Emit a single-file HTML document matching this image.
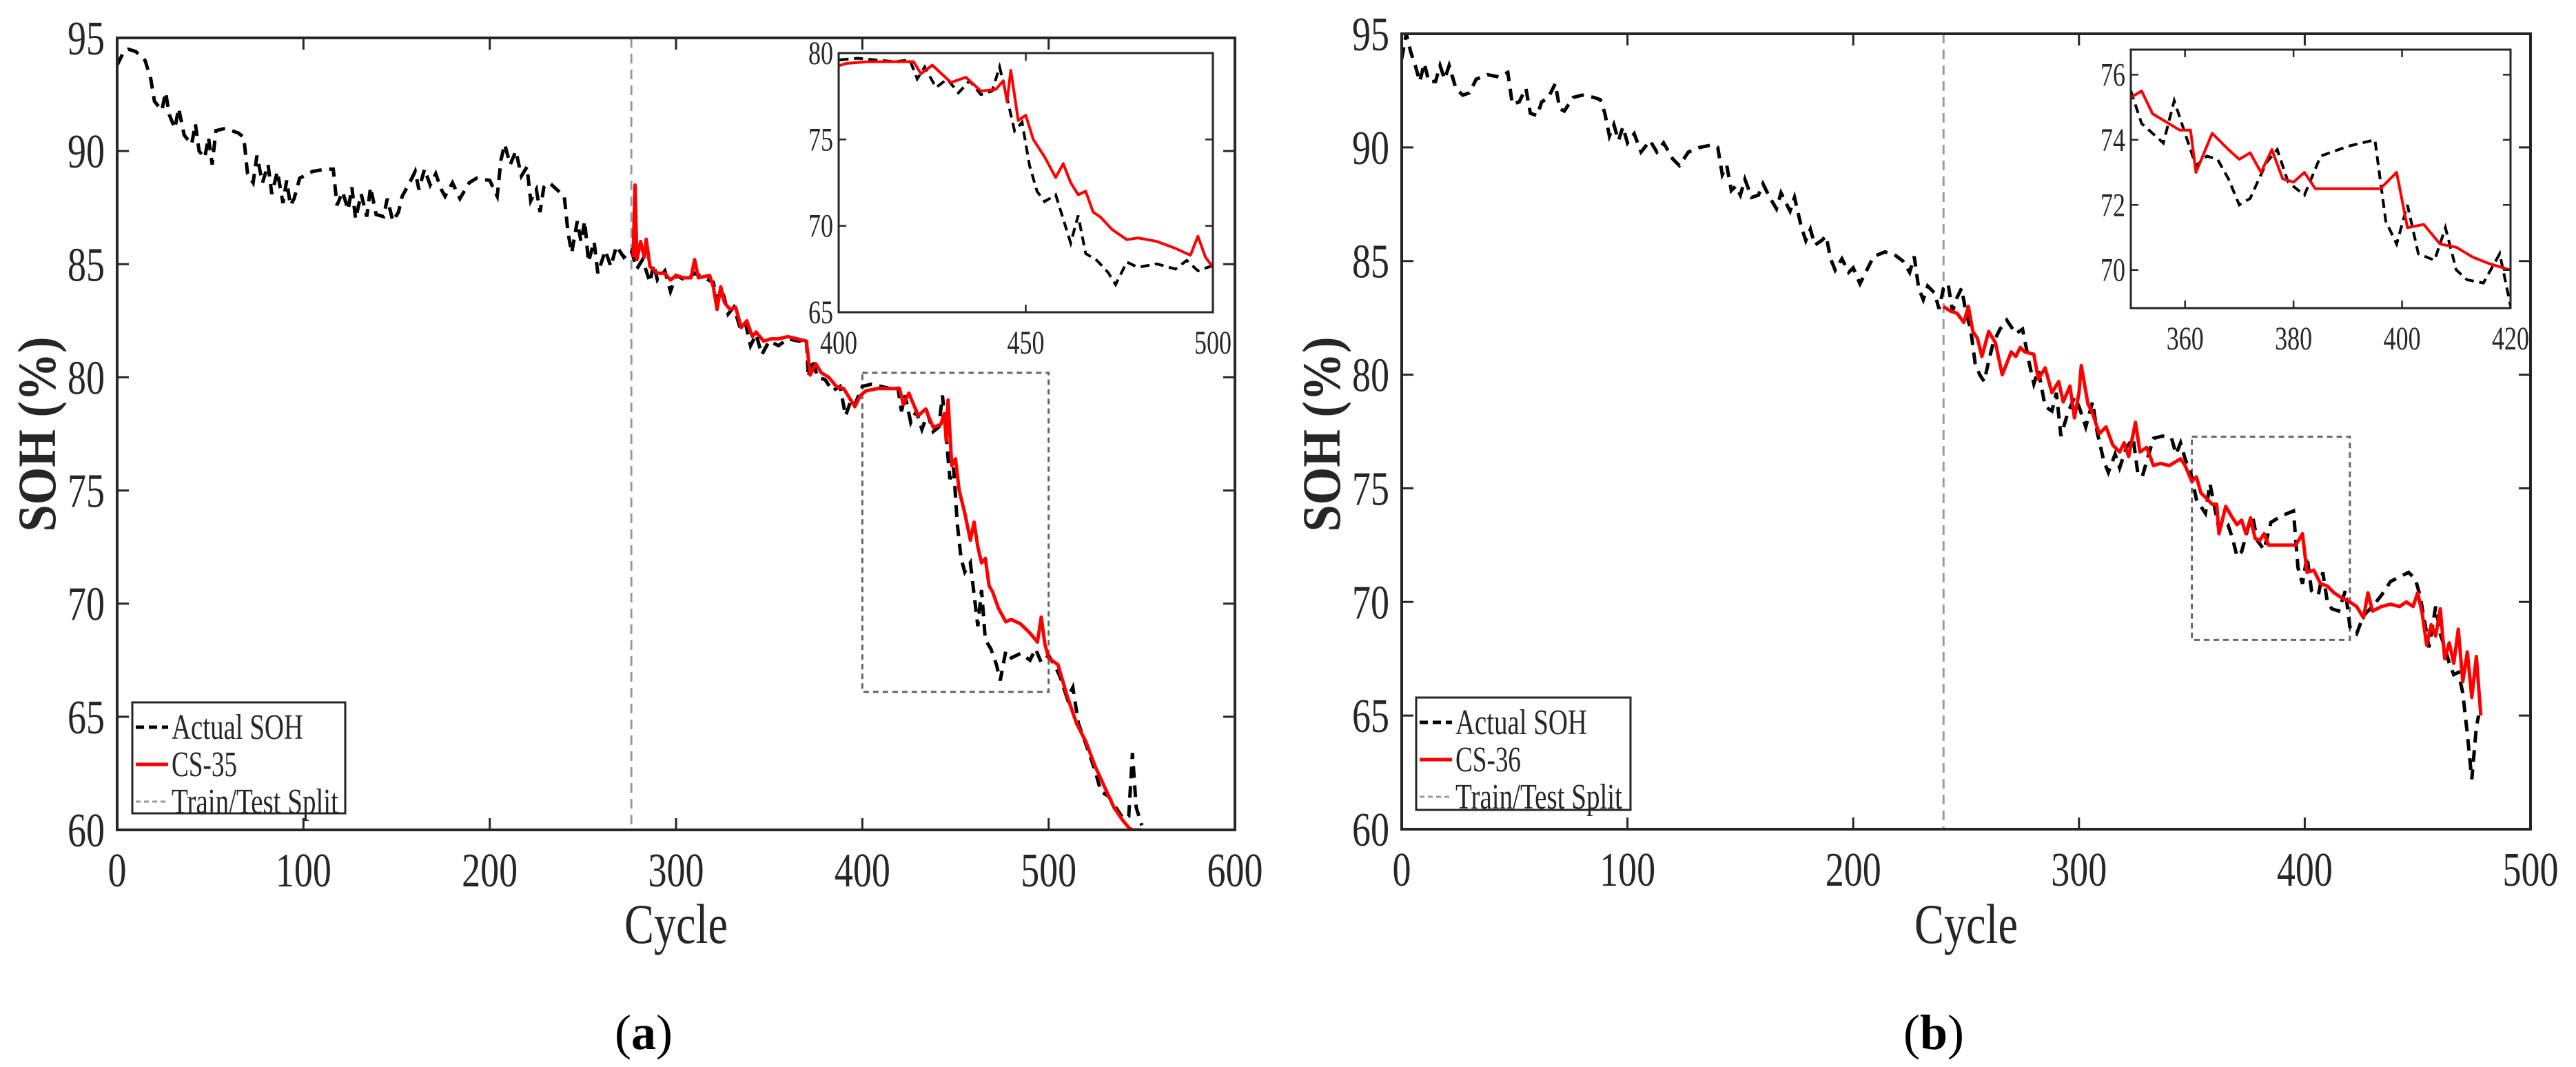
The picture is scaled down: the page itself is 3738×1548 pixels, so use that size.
<!DOCTYPE html>
<html><head><meta charset="utf-8"><style>
html,body{margin:0;padding:0;background:#fff;}
svg{display:block;font-family:"Liberation Serif",serif;}
svg text{font-family:"Liberation Serif",serif;}
</style></head><body>
<svg id="fig" width="3738" height="1548" viewBox="0 0 3738 1548" xmlns="http://www.w3.org/2000/svg"></svg>
<script>
// ---------- Panel (a) data ----------
const aActualX=[0,3,6,10,15,18,20,24,26,28,31,33,36,40,42,44,47,49,51,53,58,65,68,70,73,75,78,81,83,86,89,91,93,95,98,105,112,116,118,121,124,126,128,131,134,136,139,143,145,148,151,153,157,160,162,165,168,171,174,176,180,184,189,193,200,204,206,208,211,214,217,220,222,225,227,229,232,236,240,242,244,247,249,251,253,256,258,262,265,268,272,276,279,282,286,288,290,294,297,300,305,310,315,320,322,325,328,331,334,337,340,343,346,350,355,360,366,370,371,373,376,380,384,388,391,394,396,400,405,410,415,419,421,423,426,429,432,435,438,441,443,445,447,449,451,453,455,458,460,462,464,466,469,472,474,477,480,485,490,493,496,500,503,506,510,513,516,520,525,528,532,536,540,543,545,547,550];
const aActualY=[93.8,94.3,94.5,94.4,94.0,93.2,92.2,91.8,92.6,91.6,91.0,91.9,90.7,90.3,91.2,90.0,89.7,90.6,89.4,90.9,91.0,90.8,90.6,89.0,88.6,89.8,88.6,89.4,88.1,89.1,87.7,88.7,87.6,87.9,88.8,89.1,89.2,89.2,87.6,88.2,87.4,88.4,87.0,88.1,87.1,88.4,87.2,87.1,87.9,86.9,87.3,88.0,88.6,89.1,88.3,89.2,88.5,89.0,88.3,88.0,88.6,87.9,88.6,88.8,88.7,88.0,89.6,90.3,89.4,90.0,88.9,89.3,87.8,88.3,87.3,88.4,88.6,88.3,88.0,86.4,85.5,86.9,86.0,86.9,85.1,86.0,84.6,85.6,84.9,85.8,85.3,85.6,84.8,85.2,84.2,85.0,84.3,84.7,83.8,84.5,84.3,84.6,84.4,84.2,83.4,83.8,82.8,83.1,82.3,82.5,81.4,81.9,81.0,81.6,81.4,81.7,81.6,81.7,80.0,80.8,80.0,79.9,79.4,79.6,78.3,79.0,78.8,79.6,79.7,79.6,79.5,79.6,78.5,79.2,78.0,78.5,77.7,78.4,77.6,77.8,79.2,77.4,75.5,76.0,73.5,72.0,71.4,71.8,70.4,69.0,70.6,68.4,68.0,67.3,66.6,67.9,67.6,67.8,67.5,68.0,67.4,67.7,67.3,66.8,65.8,66.3,64.7,63.8,62.6,61.7,61.5,61.0,60.5,60.6,63.4,61.0,60.2];
const aPredX=[277,278,279,281,283,284,286,290,294,297,300,304,308,310,312,318,320,322,324,326,329,332,335,338,341,343,347,351,355,360,365,370,372,375,378,382,386,390,393,396,399,402,408,415,420,422,425,430,434,438,442,444,445,446,448,450,452,455,458,460,462,464,466,468,470,473,477,480,485,490,494,496,498,500,505,510,515,520,525,530,535,540,543,545,550];
const aPredY=[85.3,88.5,85.2,86.0,85.3,86.1,84.9,84.6,84.6,84.3,84.5,84.4,84.4,85.2,84.4,84.5,84.0,83.0,84.0,83.3,83.0,83.1,82.2,82.5,81.8,82.0,81.6,81.7,81.7,81.8,81.7,81.6,80.1,80.6,80.2,80.0,79.6,79.5,79.1,78.7,79.2,79.4,79.5,79.5,79.5,78.8,79.3,78.3,78.6,77.8,77.9,78.4,77.2,79.0,76.1,76.4,75.0,74.0,72.8,73.6,72.5,71.8,72.0,70.8,70.5,69.8,69.2,69.3,69.1,68.7,68.3,69.4,68.2,67.6,67.3,65.9,64.7,63.9,62.8,61.9,61.0,60.4,60.1,60.0,60.0];
const aXTicks=[0,100,200,300,400,500,600];
const aYTicks=[60,65,70,75,80,85,90,95];
const aInsetXTicks=[400,450,500];
const aInsetYTicks=[65,70,75,80];
const aSplit=276;
const aZoomBox=[400,500,66.1,80.2];

// ---------- Panel (b) data ----------
const bActualX=[0,2,4,6,8,10,12,15,17,19,21,24,27,30,33,38,43,47,49,52,55,57,60,62,65,68,70,72,76,80,85,88,90,92,94,96,98,100,103,106,110,113,116,120,123,127,132,137,140,142,144,146,148,150,152,155,158,160,163,166,168,172,174,177,179,181,183,186,188,190,192,195,198,200,203,206,209,214,218,222,225,227,229,231,233,236,238,240,242,244,246,248,250,252,254,256,258,260,262,265,268,272,275,278,280,282,285,288,290,292,295,298,300,303,306,308,311,313,316,318,321,324,326,328,330,333,337,341,343,345,347,350,352,354,356,358,360,362,364,366,368,370,372,375,377,379,382,385,390,395,397,399,401,403,406,408,410,412,415,418,420,423,426,430,434,438,442,446,449,451,453,455,458,460,462,464,466,468,470,472,474,476,477];
const bActualY=[93.9,95.0,94.2,93.6,92.9,93.7,92.9,92.9,93.6,93.0,93.6,92.6,92.3,92.4,93.0,93.2,93.1,93.3,91.9,92.0,92.6,91.5,91.4,92.0,92.2,92.8,91.7,91.6,92.2,92.3,92.2,92.1,91.5,90.5,91.0,90.3,90.9,90.2,90.6,89.8,90.3,89.8,90.2,89.5,89.2,89.8,90.0,90.1,90.0,88.8,89.2,88.1,88.3,87.9,88.6,87.8,87.9,88.4,87.8,87.3,88.0,87.2,87.8,86.5,85.9,86.4,85.7,85.9,86.1,85.1,84.6,85.1,84.5,84.7,84.0,84.6,85.2,85.4,85.3,85.0,84.5,85.2,83.8,83.3,83.9,83.6,82.9,83.8,84.0,82.8,83.4,83.8,82.7,82.0,80.5,80.0,79.7,80.6,81.4,82.0,82.4,81.8,82.0,80.5,79.6,80.2,78.6,78.4,79.2,77.3,78.3,79.0,78.6,77.7,78.8,77.5,76.2,75.7,76.5,75.9,76.8,77.2,75.7,75.5,76.2,77.2,77.3,77.2,76.5,77.0,76.3,75.5,74.5,74.2,73.9,75.2,74.2,73.2,73.5,73.4,72.8,72.0,72.2,73.3,73.7,72.7,72.3,73.5,73.8,74.0,71.5,70.8,72.0,70.5,70.3,71.3,70.0,69.7,69.6,70.5,68.9,68.6,69.4,69.8,70.3,70.9,71.1,71.3,71.0,70.3,69.2,68.0,69.8,68.6,68.0,67.3,66.8,66.9,66.0,64.2,62.2,64.5,65.0];
const bPredX=[240,243,246,249,251,253,255,257,260,263,266,268,270,272,274,276,280,282,285,288,291,293,296,298,300,301,304,306,309,312,315,318,320,322,325,327,330,333,336,340,345,347,350,352,354,357,359,361,362,365,368,370,372,374,376,378,380,382,384,388,392,396,399,401,404,407,410,413,416,420,423,426,428,430,434,438,442,445,448,450,452,454,456,458,460,462,464,466,468,470,472,474,476,478];
const bPredY=[83.0,82.8,82.7,82.3,83.0,81.9,81.6,80.8,81.9,81.4,80.0,80.5,81.0,80.8,81.2,81.0,80.9,79.8,80.3,79.2,79.7,78.8,79.5,78.1,79.2,80.4,78.7,78.3,77.4,77.7,76.9,76.6,77.0,76.4,77.9,76.6,76.8,76.0,76.1,76.0,76.3,76.0,75.3,75.5,74.8,74.5,74.3,74.3,73.0,74.2,73.7,73.4,73.6,73.0,73.7,72.8,72.7,73.0,72.5,72.5,72.5,72.5,73.0,71.3,71.4,70.8,70.7,70.4,70.2,70.0,69.8,69.3,70.4,69.6,69.8,69.9,69.8,70.0,69.8,70.4,69.5,68.1,69.0,68.5,69.7,67.5,68.2,67.3,68.8,66.5,67.8,65.8,67.6,65.0];
const bXTicks=[0,100,200,300,400,500];
const bYTicks=[60,65,70,75,80,85,90,95];
const bInsetXTicks=[360,380,400,420];
const bInsetYTicks=[70,72,74,76];
const bSplit=240;
const bZoomBox=[350,420,68.33,77.27];

const NS="http://www.w3.org/2000/svg";
const FONT='"Liberation Serif", serif';
const svg=document.getElementById('fig');
function mk(tag,attrs,parent){const e=document.createElementNS(NS,tag);for(const k in attrs)e.setAttribute(k,attrs[k]);if(tag==='text')e.setAttribute('font-family',FONT);(parent||svg).appendChild(e);return e;}
function txt(s,x,y,size,anchor,lenPerChar,parent,weight){
  const t=mk('text',{x:x,y:y,'font-size':size,'text-anchor':anchor,fill:'#262626'},parent);
  if(weight)t.setAttribute('font-weight',weight);
  if(lenPerChar){t.setAttribute('textLength',(s.length*lenPerChar).toFixed(1));t.setAttribute('lengthAdjust','spacingAndGlyphs');}
  t.textContent=s;return t;}
function scale(d0,d1,r0,r1){return v=>r0+(v-d0)/(d1-d0)*(r1-r0);}
function pathD(xs,ys,sx,sy){return xs.map((x,i)=>(i?'L':'M')+sx(x).toFixed(1)+','+sy(ys[i]).toFixed(1)).join('');}
let clipId=0;

function panel(p){
  const g=mk('g',{});
  
  
  const sx=scale(p.xd[0],p.xd[1],p.L,p.R), sy=scale(p.yd[0],p.yd[1],p.B,p.T);
  const cid='clip'+(clipId++);
  const cp=mk('clipPath',{id:cid},g); mk('rect',{x:p.L,y:p.T,width:p.R-p.L,height:p.B-p.T},cp);
  const plot=mk('g',{'clip-path':'url(#'+cid+')'},g);
  const sl=mk('line',{x1:sx(p.split),x2:sx(p.split),y1:p.T,y2:p.B,stroke:'#999',"stroke-width":3,"stroke-dasharray":'14,9'},plot);
  
  
  const zb=p.zoom;
  const zr=mk('rect',{x:sx(zb[0]),y:sy(zb[3]),width:sx(zb[1])-sx(zb[0]),height:sy(zb[2])-sy(zb[3]),fill:'none',stroke:'#666',"stroke-width":3,"stroke-dasharray":'8,6'},plot);
  
  
  const a=mk('path',{d:pathD(p.ax,p.ay,sx,sy),fill:'none',stroke:'#000',"stroke-width":5,"stroke-dasharray":'17,11'},plot);
  
  
  const r=mk('path',{d:pathD(p.px,p.py,sx,sy),fill:'none',stroke:'#ff0000',"stroke-width":5,"stroke-linejoin":'round'},plot);
  
  
  const ax=mk('rect',{x:p.L,y:p.T,width:p.R-p.L,height:p.B-p.T,fill:'none',stroke:'#262626',"stroke-width":4},g);
  
  
  p.xt.forEach(v=>{const x=sx(v);
    mk('line',{x1:x,x2:x,y1:p.B,y2:p.B-17,stroke:'#262626',"stroke-width":3},g);
    mk('line',{x1:x,x2:x,y1:p.T,y2:p.T+17,stroke:'#262626',"stroke-width":3},g);
    const t=txt(String(v),x,p.B+82,70,'middle',27,g);
    
    });
  p.yt.forEach(v=>{const y=sy(v);
    mk('line',{x1:p.L,x2:p.L+17,y1:y,y2:y,stroke:'#262626',"stroke-width":3},g);
    mk('line',{x1:p.R,x2:p.R-17,y1:y,y2:y,stroke:'#262626',"stroke-width":3},g);
    const t=txt(String(v),p.L-18,y+24,70,'end',27,g);
    
    });
  const xl=txt('Cycle',(p.L+p.R)/2,1368,82,'middle',30,g);
  
  
  const yl=mk('text',{x:0,y:0,'font-size':78,'font-weight':'bold','text-anchor':'middle',fill:'#262626',transform:'translate('+(p.L-90)+',630) rotate(-90)',textLength:283,lengthAdjust:'spacingAndGlyphs'},g);
  yl.textContent='SOH (%)';
  
  
  const I=p.inset;
  const ig=mk('g',{},g);
  
  
  mk('rect',{x:I.L,y:I.T,width:I.R-I.L,height:I.B-I.T,fill:'#fff'},ig);
  const isx=scale(I.xd[0],I.xd[1],I.L,I.R), isy=scale(I.yd[0],I.yd[1],I.B,I.T);
  const cid2='clip'+(clipId++);
  const cp2=mk('clipPath',{id:cid2},ig); mk('rect',{x:I.L,y:I.T,width:I.R-I.L,height:I.B-I.T},cp2);
  const ip=mk('g',{'clip-path':'url(#'+cid2+')'},ig);
  const ia=mk('path',{d:pathD(p.ax,p.ay,isx,isy),fill:'none',stroke:'#000',"stroke-width":4,"stroke-dasharray":'13,8'},ip);
  
  
  const ir=mk('path',{d:pathD(p.px,p.py,isx,isy),fill:'none',stroke:'#ff0000',"stroke-width":4,"stroke-linejoin":'round'},ip);
  
  
  mk('rect',{x:I.L,y:I.T,width:I.R-I.L,height:I.B-I.T,fill:'none',stroke:'#262626',"stroke-width":3},ig);
  I.xt.forEach(v=>{const x=isx(v);
    mk('line',{x1:x,x2:x,y1:I.B,y2:I.B-11,stroke:'#262626',"stroke-width":2.5},ig);
    mk('line',{x1:x,x2:x,y1:I.T,y2:I.T+11,stroke:'#262626',"stroke-width":2.5},ig);
    const t=txt(String(v),x,I.B+60,48,'middle',18,ig);
    
    });
  I.yt.forEach(v=>{const y=isy(v);
    mk('line',{x1:I.L,x2:I.L+11,y1:y,y2:y,stroke:'#262626',"stroke-width":2.5},ig);
    mk('line',{x1:I.R,x2:I.R-11,y1:y,y2:y,stroke:'#262626',"stroke-width":2.5},ig);
    const t=txt(String(v),I.L-8,y+16,48,'end',18,ig);
    
    });
  const Lg=p.legend;
  const lg=mk('g',{},g);
  
  
  mk('rect',{x:Lg.x,y:Lg.y,width:Lg.w,height:Lg.h,fill:'#fff',stroke:'#262626',"stroke-width":3},lg);
  const items=[['Actual SOH','#000',5,'12,7'],[p.model,'#ff0000',5,'none'],['Train/Test Split','#999',3,'7,5']];
  items.forEach((it,i)=>{const y=Lg.y+36+i*54;
    const ln=mk('line',{x1:Lg.x+5,x2:Lg.x+52,y1:y,y2:y,stroke:it[1],"stroke-width":it[2],"stroke-dasharray":it[3]},lg);
    
    
    const t=txt(it[0],Lg.x+57,y+17,52,'start',null,lg);
    t.setAttribute('textLength',[191,95,242][i]);
    t.setAttribute('lengthAdjust','spacingAndGlyphs');
    
    });
  const cap=mk('text',{x:p.capX,y:1522,'font-size':72,'text-anchor':'middle',fill:'#000'},g);
  
  
  cap.appendChild(document.createTextNode('('));
  const b=mk('tspan',{'font-weight':'bold'},cap); b.textContent=p.cap;
  cap.appendChild(document.createTextNode(')'));
}

panel({name:'panel-a',L:170,R:1792,T:55,B:1204,xd:[0,600],yd:[60,95],xt:aXTicks,yt:aYTicks,
  ax:aActualX,ay:aActualY,px:aPredX,py:aPredY,split:aSplit,zoom:aZoomBox,model:'CS-35',cap:'a',capX:934,
  inset:{L:1217,R:1760,T:77,B:453,xd:[400,500],yd:[65,80],xt:aInsetXTicks,yt:aInsetYTicks},
  legend:{x:192,y:1019,w:309,h:161}});
panel({name:'panel-b',L:2034,R:3672,T:49,B:1203,xd:[0,500],yd:[60,95],xt:bXTicks,yt:bYTicks,
  ax:bActualX,ay:bActualY,px:bPredX,py:bPredY,split:bSplit,zoom:bZoomBox,model:'CS-36',cap:'b',capX:2806,
  inset:{L:3092,R:3643,T:72,B:447,xd:[350,420],yd:[68.83,76.77],xt:bInsetXTicks,yt:bInsetYTicks},
  legend:{x:2055,y:1012,w:311,h:163}});
</script>
</body></html>
